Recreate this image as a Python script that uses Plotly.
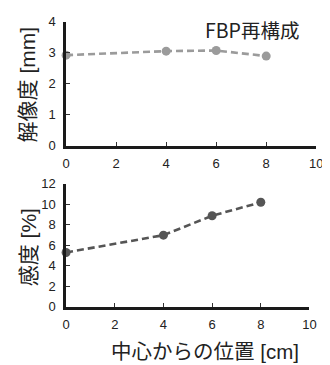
import plotly.graph_objects as go

positions = [0, 4, 6, 8]
resolution_mm = [2.92, 3.05, 3.07, 2.89]
sensitivity_pct = [5.3, 6.98, 8.87, 10.18]
x_ticks = [0, 2, 4, 6, 8, 10]
res_ticks = [0, 1, 2, 3, 4]
sens_ticks = [0, 2, 4, 6, 8, 10, 12]

# page has an 8px body margin; figure coordinates = page coordinates - 8
W, H = 322, 357
LATIN = "Liberation Sans, Arial, Noto Sans CJK JP, sans-serif"
CJK = "Noto Sans CJK JP, Liberation Sans, sans-serif"

def px(x):
    return x / W

def py(y):
    return 1 - y / H

fig = go.Figure()
fig.add_trace(go.Scatter(x=positions, y=resolution_mm, mode="lines+markers",
                         line=dict(color="#9b9b9b", width=2.6, dash="7px,4px"),
                         marker=dict(color="#9b9b9b", size=9),
                         cliponaxis=False, xaxis="x", yaxis="y", showlegend=False))
fig.add_trace(go.Scatter(x=positions, y=sensitivity_pct, mode="lines+markers",
                         line=dict(color="#555555", width=2.6, dash="7px,4px"),
                         marker=dict(color="#555555", size=9),
                         cliponaxis=False, xaxis="x2", yaxis="y2", showlegend=False))

axis_common = dict(showline=True, linecolor="#1a1a1a", linewidth=2.5, ticks="inside",
                   ticklen=4, tickwidth=1, tickcolor="#333", showgrid=False,
                   zeroline=False, tickfont=dict(family=LATIN, size=13, color="#222"))

fig.update_layout(
    width=W, height=H, margin=dict(l=0, r=0, t=0, b=0),
    paper_bgcolor="white", plot_bgcolor="white",
    xaxis=dict(domain=[px(56), px(315)], range=[0, 10], tickvals=x_ticks, anchor="y",
               ticklabelstandoff=4, **axis_common),
    yaxis=dict(domain=[py(136.3), py(7)], range=[0, 4], tickvals=res_ticks, anchor="x",
               ticklabelstandoff=5, **axis_common),
    xaxis2=dict(domain=[px(56), px(308)], range=[0, 10], tickvals=x_ticks, anchor="y2",
                ticklabelstandoff=4, **axis_common),
    yaxis2=dict(domain=[py(304.7), py(176)], range=[0, 12], tickvals=sens_ticks, anchor="x2",
                ticklabelstandoff=5, **axis_common),
    annotations=[
        dict(text="解像度 [mm]", x=px(17), y=py(72), xref="paper", yref="paper", textangle=-90,
             showarrow=False, font=dict(family=LATIN, size=21, color="#222"),
             xanchor="center", yanchor="middle"),
        dict(text="感度 [%]", x=px(16.5), y=py(242.5), xref="paper", yref="paper", textangle=-90,
             showarrow=False, font=dict(family=LATIN, size=21, color="#222"),
             xanchor="center", yanchor="middle"),
        dict(text="中心からの位置 [cm]", x=px(200), y=py(351.5), xref="paper", yref="paper",
             showarrow=False, font=dict(family=LATIN, size=20.5, color="#222"),
             xanchor="center", yanchor="middle"),
        dict(text="FBP再構成", x=px(248), y=py(15.5), xref="paper", yref="paper",
             showarrow=False, font=dict(family=CJK, size=19.5, color="#222"),
             xanchor="center", yanchor="middle"),
    ],
)

fig.write_html("out.html")
